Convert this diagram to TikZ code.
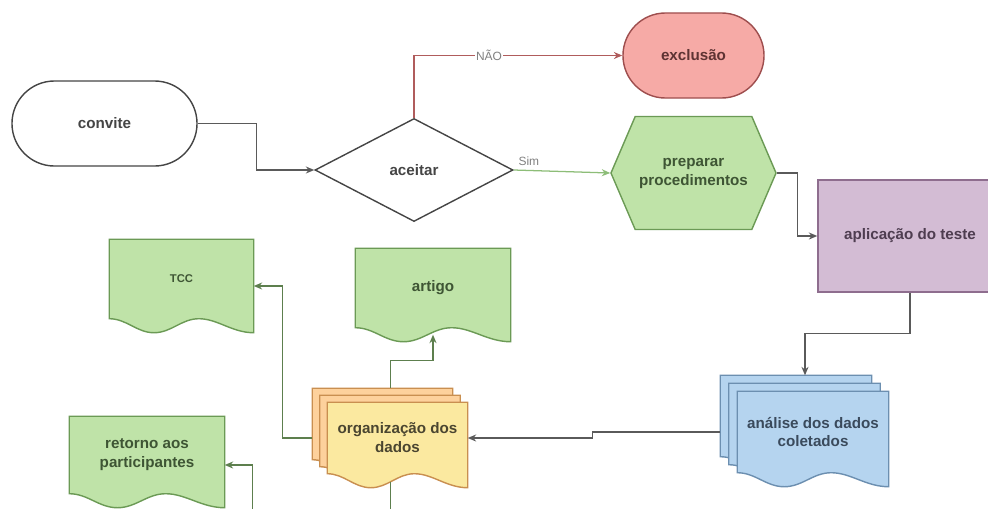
\documentclass[tikz,border=0pt]{standalone}
\usepackage{fontspec}
\setmainfont{Liberation Sans}
\usetikzlibrary{shapes.geometric, shapes.misc, shapes.symbols, arrows.meta, calc, backgrounds}

\definecolor{linegray}{HTML}{5A5A5A}
\definecolor{txtgray}{HTML}{454545}
\definecolor{greenfill}{HTML}{BFE3A8}
\definecolor{greendraw}{HTML}{6B9A55}
\definecolor{greentxt}{HTML}{3E5534}
\definecolor{greenline}{HTML}{5D7F4E}
\definecolor{simline}{HTML}{8DBD78}
\definecolor{redfill}{HTML}{F6AAA6}
\definecolor{reddraw}{HTML}{9E4E4E}
\definecolor{redtxt}{HTML}{5E3333}
\definecolor{redline}{HTML}{B05C5C}
\definecolor{purplefill}{HTML}{D3BCD4}
\definecolor{purpledraw}{HTML}{8E6D8E}
\definecolor{purpletxt}{HTML}{4E3D50}
\definecolor{bluefill}{HTML}{B5D4EF}
\definecolor{bluedraw}{HTML}{6C8FB0}
\definecolor{bluetxt}{HTML}{3A4A5C}
\definecolor{yellowfill}{HTML}{FBE9A0}
\definecolor{orangefill}{HTML}{FDD19C}
\definecolor{orangedraw}{HTML}{C98F50}
\definecolor{yellowtxt}{HTML}{4A4530}

% page with a wavy bottom, drawn from the anchors of a node
\newcommand{\docshape}[3][{(0,0)}]{%
  \path[#3] let \p1=([shift={#1}]#2.north west), \p2=([shift={#1}]#2.south east), \n1={\x2-\x1}, \n2={0.35cm} in
    (\x1,\y1) -- (\x2,\y1) -- (\x2,{\y2-\n2})
    .. controls ({\x1+0.85*\n1},{\y2-\n2}) and ({\x1+0.75*\n1},\y2) .. ({\x1+0.62*\n1},\y2)
    .. controls ({\x1+0.50*\n1},\y2) and ({\x1+0.43*\n1},{\y2-\n2}) .. ({\x1+0.31*\n1},{\y2-\n2})
    .. controls ({\x1+0.19*\n1},{\y2-\n2}) and ({\x1+0.12*\n1},\y2) .. (\x1,\y2) -- cycle;
}

\begin{document}
\begin{tikzpicture}[x=0.025cm, y=-0.025cm, font=\bfseries\fontsize{10.8}{13.5}\selectfont]
\tikzset{
    box/.style={
        align=center,
        inner sep=0pt,
        line width=1pt,
    },
    terminal/.style={
        box,
        rounded rectangle,
        minimum height=2.125cm,
    },
    doc/.style={
        box,
        rectangle,
        minimum height=1.95cm,
    },
    page/.style={
        line width=1pt,
    },
    arr/.style={
        draw=linegray,
        line width=0.9pt,
        -{Stealth[length=6pt, width=5pt]},
    },
    garr/.style={
        arr,
        draw=greenline,
    },
    elabel/.style={
        font=\fontsize{8.5}{10}\selectfont,
        text=gray,
        inner sep=1pt,
    },
}
    \path[use as bounding box] (0,0) rectangle (988,508);

    \node[terminal, draw=txtgray, fill=white, text=txtgray, minimum width=4.625cm] (convite) at (104.5,123.5) {convite};
    \node[box, diamond, draw=txtgray, fill=white, text=txtgray, minimum width=4.95cm, minimum height=2.575cm] (aceitar) at (414,170) {aceitar};
    \node[terminal, draw=reddraw, fill=redfill, text=redtxt, minimum width=3.525cm] (exclusao) at (693.5,55.5) {exclusão};
    \node[box, signal, signal to=east and west, signal pointer angle=133.6, draw=greendraw, fill=greenfill, text=greentxt,
          minimum width=4.125cm, minimum height=2.825cm] (preparar) at (693.5,173) {preparar\\procedimentos};
    \node[box, rectangle, draw=purpledraw, fill=purplefill, text=purpletxt, minimum width=4.6cm, minimum height=2.8cm] (aplicacao) at (910,236) {aplicação do teste};

    \node[doc, text=bluetxt, minimum width=3.75cm, minimum height=2cm] (analise) at (813,432) {análise dos dados\\coletados};
    \node[doc, text=yellowtxt, minimum width=3.475cm, minimum height=1.75cm] (organizacao) at (397.5,438) {organização dos\\dados};
    \node[doc, text=greentxt, minimum width=3.575cm, font=\bfseries\fontsize{8}{10}\selectfont] (tcc) at (181.5,279) {TCC};
    \node[doc, text=greentxt, minimum width=3.85cm] (artigo) at (433,288) {artigo};
    \node[doc, text=greentxt, minimum width=3.85cm, minimum height=1.9cm] (retorno) at (147,455) {retorno aos\\participantes};

    % the page shapes go behind the texts
    \begin{pgfonlayer}{background}
        \docshape{tcc}{page, draw=greendraw, fill=greenfill}
        \docshape{artigo}{page, draw=greendraw, fill=greenfill}
        \docshape{retorno}{page, draw=greendraw, fill=greenfill}

        \docshape[{(-17,-16)}]{analise}{page, draw=bluedraw, fill=bluefill}
        \docshape[{(-8.5,-8)}]{analise}{page, draw=bluedraw, fill=bluefill}
        \docshape{analise}{page, draw=bluedraw, fill=bluefill}

        \docshape[{(-15,-14)}]{organizacao}{page, draw=orangedraw, fill=orangefill}
        \docshape[{(-7.5,-7)}]{organizacao}{page, draw=orangedraw, fill=orangefill}
        \docshape{organizacao}{page, draw=orangedraw, fill=yellowfill}
    \end{pgfonlayer}

    % arrows
    \draw[arr] (convite.east) -- ++(59,0) |- (aceitar.west);
    \draw[arr, draw=redline] (aceitar.north) |- node[elabel, fill=white, pos=0.68] {NÃO} (exclusao.west);
    \draw[arr, draw=simline] (aceitar.east) -- node[elabel, pos=0, anchor=south west, xshift=2pt, yshift=2pt] {Sim} (preparar.west);
    \draw[arr] (preparar.east) -- ++(21,0) |- (aplicacao.west);
    \draw[arr] (aplicacao.south) -- ++(0,41) -| ([shift={(-8,-16)}]analise.north);
    \draw[arr] ([shift={(-17,0)}]analise.west) -- ++(-128,0) |- (organizacao.east);

    \draw[garr] ([shift={(-15,0)}]organizacao.west) -- ++(-30,0) |- ([shift={(0,7)}]tcc.east);
    \draw[garr] ([shift={(-7,-14)}]organizacao.north) -- ++(0,-28) -| ([shift={(0,7)}]artigo.south);
    \draw[garr] ([shift={(-7,8)}]organizacao.south) -- ++(0,45) -| ([shift={(28,10)}]retorno.east) -- ([shift={(0,10)}]retorno.east);

\end{tikzpicture}
\end{document}
